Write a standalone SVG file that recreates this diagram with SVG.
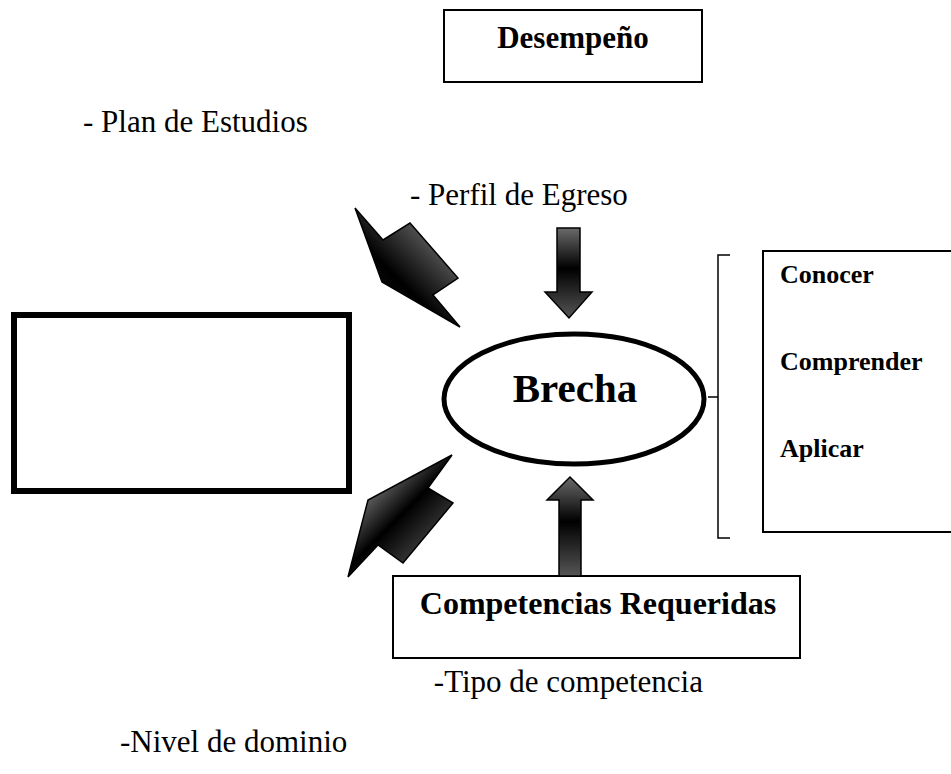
<svg xmlns="http://www.w3.org/2000/svg" width="951" height="774" viewBox="0 0 951 774">
<style>
.t{font-family:"Liberation Serif","Times New Roman",serif;fill:#000}
.b{font-weight:bold}
.box{fill:#fff;stroke:#000;stroke-width:2}
.arr{stroke:#000;stroke-width:1.5;stroke-linejoin:miter}
.br{fill:none;stroke:#000;stroke-width:1.5}
</style>
<defs>
<linearGradient id="gv" x1="0" y1="0" x2="0" y2="1">
<stop offset="0" stop-color="#6a6a6a"/>
<stop offset="0.45" stop-color="#000"/>
<stop offset="1" stop-color="#555"/>
</linearGradient>
<linearGradient id="gd1" gradientUnits="userSpaceOnUse" x1="370" y1="300" x2="440" y2="230">
<stop offset="0" stop-color="#111"/>
<stop offset="0.35" stop-color="#000"/>
<stop offset="1" stop-color="#6a6a6a"/>
</linearGradient>
<linearGradient id="gd2" gradientUnits="userSpaceOnUse" x1="370" y1="490" x2="440" y2="560">
<stop offset="0" stop-color="#6a6a6a"/>
<stop offset="0.4" stop-color="#000"/>
<stop offset="1" stop-color="#555"/>
</linearGradient>
</defs>

<g id="desempeno">
<rect class="box" x="444" y="10" width="258" height="72"/>
<text class="t b" x="573" y="48" font-size="31" text-anchor="middle">Desempeño</text>
</g>

<g id="plan-estudios">
<text class="t" x="83" y="132" font-size="31">- Plan de Estudios</text>
</g>

<g id="perfil-egreso">
<text class="t" x="410" y="205" font-size="31">- Perfil de Egreso</text>
</g>

<g id="left-box">
<rect x="14" y="315" width="335" height="176" fill="#fff" stroke="#000" stroke-width="6"/>
</g>

<g id="brecha">
<ellipse cx="574" cy="399" rx="130" ry="65" fill="#fff" stroke="#000" stroke-width="5"/>
<text class="t b" x="575" y="402" font-size="41" text-anchor="middle">Brecha</text>
</g>

<g id="niveles">
<rect class="box" x="763" y="251" width="190" height="281"/>
<text class="t b" x="780" y="283" font-size="26">Conocer</text>
<text class="t b" x="780" y="370" font-size="26">Comprender</text>
<text class="t b" x="780" y="457" font-size="26">Aplicar</text>
</g>

<g id="competencias">
<rect class="box" x="393" y="576" width="407" height="82"/>
<text class="t b" x="598" y="614" font-size="32" text-anchor="middle">Competencias Requeridas</text>
</g>

<g id="tipo">
<text class="t" x="703" y="692" font-size="31" text-anchor="end">-Tipo de competencia</text>
</g>

<g id="nivel">
<text class="t" x="120" y="752" font-size="31">-Nivel de dominio</text>
</g>

<g id="connectors">
<polygon class="arr" fill="url(#gd1)" points="355,208 383,240 410,223 458,278 433,295 460,327 382,282"/>
<polygon class="arr" fill="url(#gd2)" points="452,455 368,500 348,577 378,545 403,563 453,503 428,488"/>
<polygon class="arr" fill="url(#gv)" points="557,228 580,228 580,292 592,292 569,318 545,292 557,292"/>
<polygon class="arr" fill="url(#gv)" points="570,477 593,500 581,500 581,576 559,576 559,500 547,500"/>
<path class="br" d="M730,255 H718 V538 H730 M718,397 H708"/>
</g>
</svg>
